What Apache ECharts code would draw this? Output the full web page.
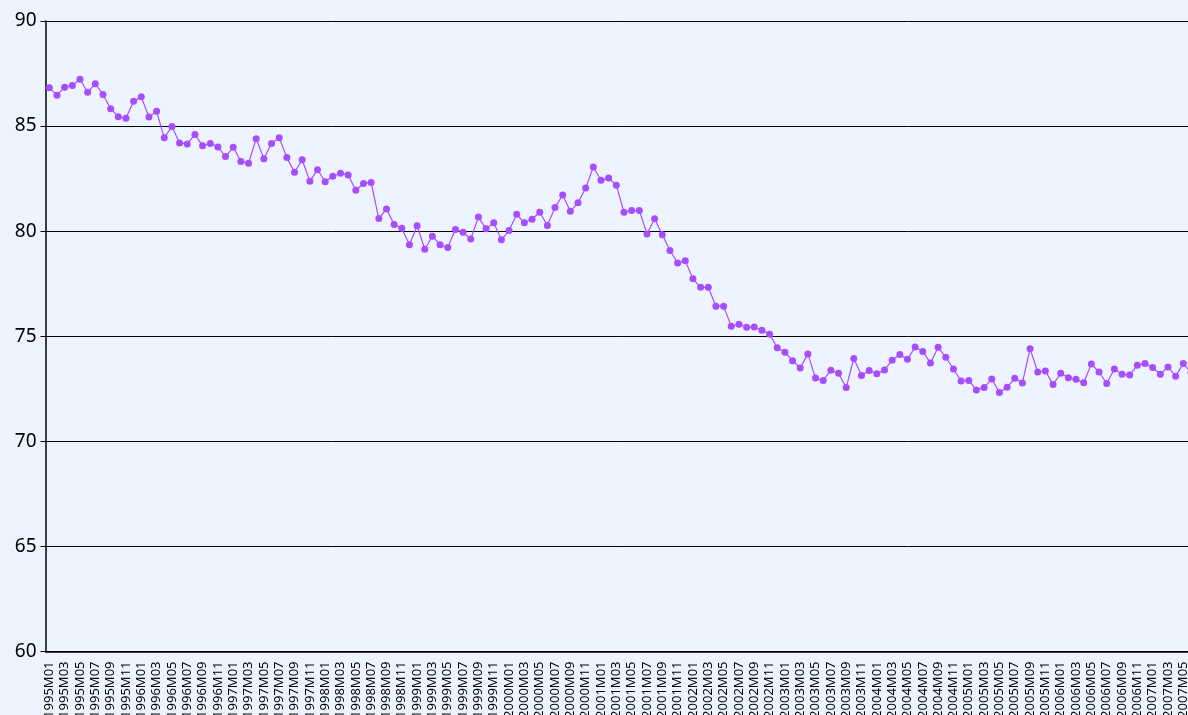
<!DOCTYPE html>
<html>
<head>
<meta charset="utf-8">
<script src="https://cdn.jsdelivr.net/npm/echarts@6/dist/echarts.min.js"></script>
<style>
  html, body { margin: 0; padding: 0; background: #eef4ff; overflow: hidden; }
  #chart { width: 1196px; height: 715px; }
</style>
</head>
<body>
<div id="chart"></div>
<script>
// monthly labels 1995M01 .. 2007M06
const firstYear = 1995;
const monthCount = 150;
const months = [];
for (let i = 0; i < monthCount; i++) {
  const y = firstYear + Math.floor(i / 12);
  const m = (i % 12) + 1;
  months.push(y + 'M' + (m < 10 ? '0' + m : m));
}

const values = [
  86.82, 86.47, 86.85, 86.93, 87.23, 86.61, 87.01, 86.50, 85.83, 85.45, 85.37, 86.18,
  86.39, 85.43, 85.70, 84.44, 84.98, 84.20, 84.15, 84.60, 84.06, 84.17, 84.01, 83.55,
  83.99, 83.32, 83.23, 84.40, 83.45, 84.17, 84.45, 83.50, 82.80, 83.40, 82.37, 82.92,
  82.35, 82.61, 82.76, 82.67, 81.95, 82.27, 82.32, 80.60, 81.06, 80.32, 80.14, 79.35,
  80.26, 79.14, 79.76, 79.35, 79.22, 80.08, 79.95, 79.63, 80.67, 80.11, 80.40, 79.59,
  80.03, 80.80, 80.40, 80.57, 80.90, 80.27, 81.13, 81.72, 80.95, 81.35, 82.05, 83.05,
  82.42, 82.53, 82.19, 80.90, 80.98, 80.98, 79.87, 80.59, 79.83, 79.08, 78.49, 78.59,
  77.73, 77.33, 77.33, 76.43, 76.43, 75.47, 75.57, 75.43, 75.44, 75.29, 75.10, 74.45,
  74.24, 73.84, 73.49, 74.16, 73.01, 72.90, 73.38, 73.24, 72.56, 73.94, 73.13, 73.37,
  73.22, 73.39, 73.86, 74.13, 73.90, 74.49, 74.27, 73.73, 74.48, 74.00, 73.44, 72.87,
  72.90, 72.44, 72.56, 72.97, 72.32, 72.57, 73.00, 72.78, 74.41, 73.30, 73.35, 72.70,
  73.24, 73.02, 72.95, 72.79, 73.68, 73.30, 72.75, 73.44, 73.19, 73.16, 73.62, 73.70,
  73.51, 73.19, 73.54, 73.10, 73.70, 73.27
];

const yMin = 60;
const yMax = 90;
const yStep = 5;

const chart = echarts.init(document.getElementById('chart'));
chart.setOption({
  backgroundColor: '#eef4ff',
  animation: false,
  grid: {
    left: 45.5,
    right: 1.2,
    top: 21,
    bottom: 63.5,
    containLabel: false,
    outerBoundsMode: 'none'
  },
  xAxis: {
    type: 'category',
    data: months,
    boundaryGap: true,
    axisLine: { lineStyle: { color: '#000', width: 1.5 } },
    axisTick: { show: false },
    axisLabel: {
      interval: 1,
      rotate: 90,
      margin: 10,
      color: '#000',
      fontSize: 13,
      fontFamily: '"Noto Sans"'
    },
    splitLine: { show: false }
  },
  yAxis: {
    type: 'value',
    min: yMin,
    max: yMax,
    interval: yStep,
    axisLine: { show: true, lineStyle: { color: '#000', width: 1.5 } },
    axisTick: { show: true, length: 5, lineStyle: { color: '#000' } },
    axisLabel: {
      margin: 9,
      color: '#000',
      fontSize: 19,
      fontFamily: '"Noto Sans"'
    },
    splitLine: { show: true, lineStyle: { color: '#000', width: 1 } }
  },
  series: [
    {
      type: 'line',
      data: values,
      symbol: 'circle',
      symbolSize: 7,
      showAllSymbol: true,
      lineStyle: { color: '#a64dff', width: 1.2 },
      itemStyle: { color: '#a64dff' }
    }
  ]
});
</script>
</body>
</html>
